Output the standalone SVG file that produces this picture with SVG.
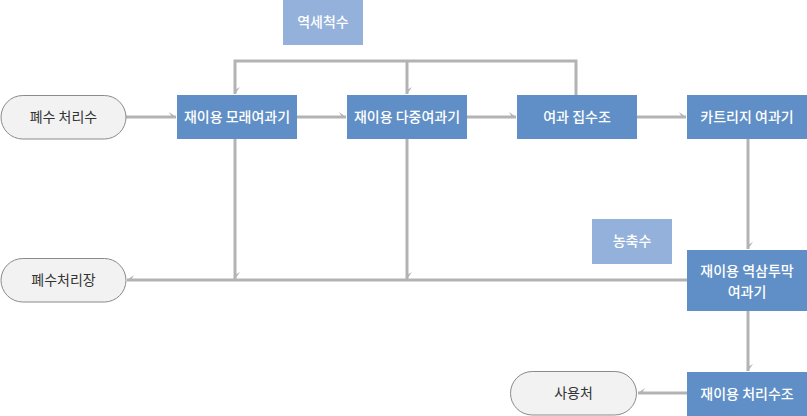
<svg xmlns="http://www.w3.org/2000/svg" width="807" height="416" viewBox="0 0 807 416">
<defs>
<style>
.box{fill:#5f8fc6}
.lbl{fill:#93b1da}
.pill{fill:#f2f2f2;stroke:#8a8a8a;stroke-width:1}
.wt{font-family:"Noto Sans CJK KR","Noto Sans",sans-serif;font-size:14px;fill:#ffffff;text-anchor:middle;font-weight:500}
.dt{font-family:"Noto Sans CJK KR","Noto Sans",sans-serif;font-size:14px;fill:#333333;text-anchor:middle}
.ln{fill:none;stroke:#b3b3b3;stroke-width:3}
</style>
<marker id="a" markerWidth="10" markerHeight="10" refX="0" refY="0" viewBox="-8 -6 10 10" orient="auto" markerUnits="userSpaceOnUse">
<path d="M0,0 L-7,-5 L-4,0 Z" fill="#b3b3b3"/>
</marker>
<marker id="b" markerWidth="10" markerHeight="10" refX="0" refY="0" viewBox="-8 -4 10 10" orient="auto" markerUnits="userSpaceOnUse">
<path d="M0,0 L-7,5 L-4,0 Z" fill="#b3b3b3"/>
</marker>
</defs>
<g id="connectors">
<path class="ln" d="M126,117 H176" marker-end="url(#a)"/>
<path class="ln" d="M297,117 H346" marker-end="url(#a)"/>
<path class="ln" d="M467,117 H516" marker-end="url(#a)"/>
<path class="ln" d="M637,117 H686" marker-end="url(#a)"/>
<path class="ln" d="M576,95 V61 H235 V94" marker-end="url(#a)"/>
<path class="ln" d="M407,61 V94" marker-end="url(#a)"/>
<path class="ln" d="M235,139 V279" marker-end="url(#a)"/>
<path class="ln" d="M407,139 V279" marker-end="url(#a)"/>
<path class="ln" d="M687,280 H127" marker-end="url(#b)"/>
<path class="ln" d="M748,139 V249" marker-end="url(#a)"/>
<path class="ln" d="M748,311 V371" marker-end="url(#a)"/>
<path class="ln" d="M687,393 H638" marker-end="url(#b)"/>
</g>
<g id="n-backwash"><rect class="lbl" x="283" y="0" width="80" height="45"/><text class="wt" x="323" y="27">역세척수</text></g>
<g id="n-wastewater"><rect class="pill" x="1" y="95.5" width="125" height="43.5" rx="21.75"/><text class="dt" x="63.5" y="122">폐수 처리수</text></g>
<g id="n-sand"><rect class="box" x="177" y="95" width="120" height="44"/><text class="wt" x="237" y="122">재이용 모래여과기</text></g>
<g id="n-multi"><rect class="box" x="347" y="95" width="120" height="44"/><text class="wt" x="407" y="122">재이용 다중여과기</text></g>
<g id="n-collect"><rect class="box" x="517" y="95" width="120" height="44"/><text class="wt" x="577" y="122">여과 집수조</text></g>
<g id="n-cartridge"><rect class="box" x="687" y="95" width="120" height="44"/><text class="wt" x="747" y="122">카트리지 여과기</text></g>
<g id="n-plant"><rect class="pill" x="1" y="258.5" width="125" height="43.5" rx="21.75"/><text class="dt" x="63.5" y="285">폐수처리장</text></g>
<g id="n-concentrate"><rect class="lbl" x="592" y="219" width="80" height="45"/><text class="wt" x="632" y="246">농축수</text></g>
<g id="n-ro"><rect class="box" x="687" y="250" width="120" height="61"/><text class="wt" x="747" y="276">재이용 역삼투막</text><text class="wt" x="747" y="297">여과기</text></g>
<g id="n-tank"><rect class="box" x="687" y="372" width="120" height="44"/><text class="wt" x="747" y="399">재이용 처리수조</text></g>
<g id="n-use"><rect class="pill" x="510.5" y="371.5" width="126" height="43.5" rx="21.75"/><text class="dt" x="573.5" y="398">사용처</text></g>
</svg>
